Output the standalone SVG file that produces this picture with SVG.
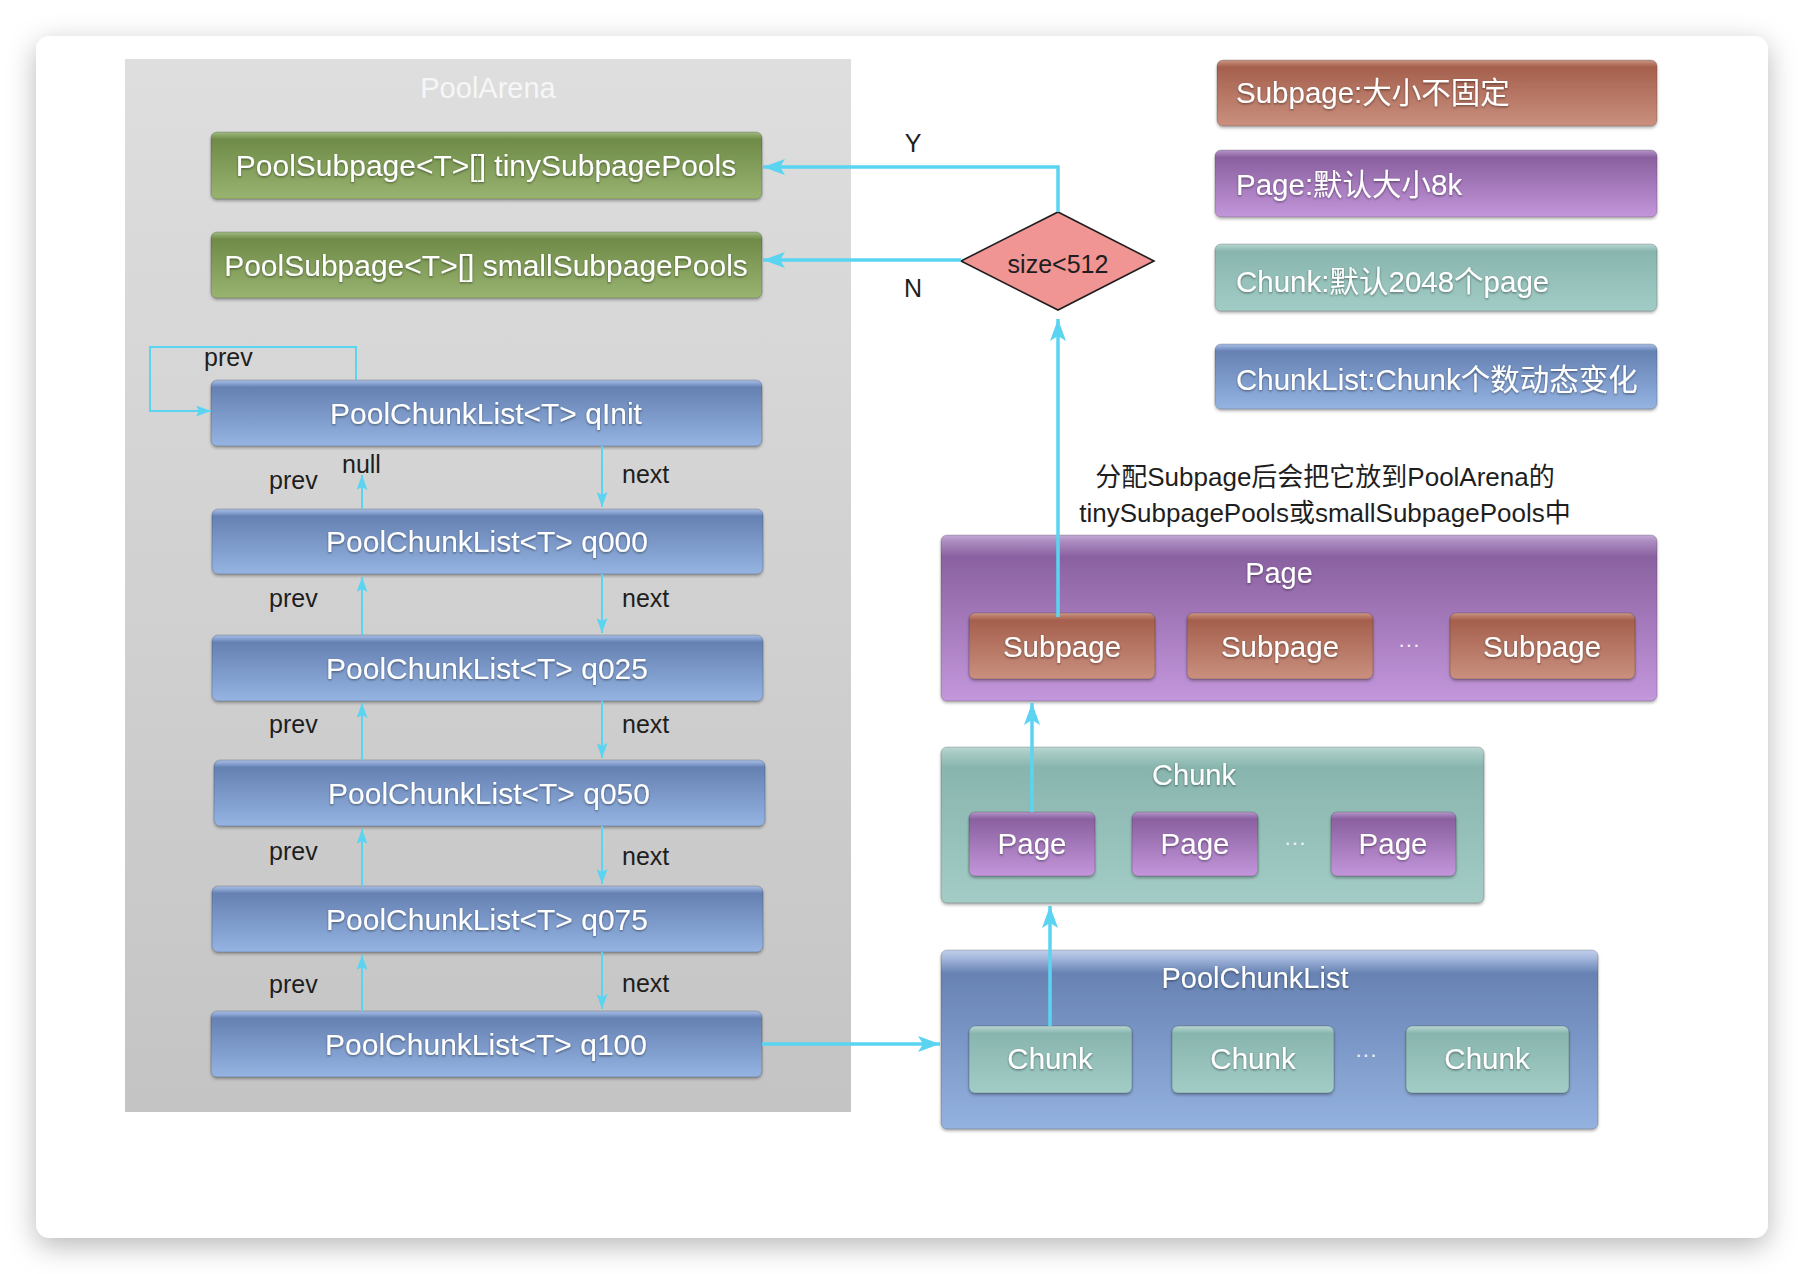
<svg xmlns="http://www.w3.org/2000/svg" width="1804" height="1274" viewBox="0 0 1804 1274">
<defs>
<style>
.lbl{font-family:"Liberation Sans","Noto Sans CJK SC",sans-serif;fill:#ffffff;text-anchor:middle;filter:url(#ts)}
.leg{font-family:"Liberation Sans","Noto Sans CJK SC",sans-serif;fill:#ffffff;font-size:29.5px;filter:url(#ts)}
.blk{font-family:"Liberation Sans","Noto Sans CJK SC",sans-serif;fill:#1e1e1e;font-size:25px}
.cap{font-family:"Liberation Sans","Noto Sans CJK SC",sans-serif;fill:#1e1e1e;font-size:26px;text-anchor:middle}
.dots{font-family:"Liberation Sans",sans-serif;fill:#f2eef5;font-size:22px;text-anchor:middle}
.box{filter:url(#bs);stroke:rgba(0,0,0,0.18);stroke-width:1}
.thick{fill:none;stroke:#5ad4f1;stroke-width:3.5;marker-end:url(#ab)}
.thin{fill:none;stroke:#5ad4f1;stroke-width:2;marker-end:url(#as)}
</style>
<linearGradient id="gArena" x1="0" y1="0" x2="0" y2="1"><stop offset="0" stop-color="#dedede"/><stop offset="1" stop-color="#c4c4c4"/></linearGradient>
<linearGradient id="gGreen" x1="0" y1="0" x2="0" y2="1"><stop offset="0" stop-color="#a3b987"/><stop offset="0.05" stop-color="#8aa666"/><stop offset="0.11" stop-color="#6f8b48"/><stop offset="1" stop-color="#99b470"/></linearGradient>
<linearGradient id="gBlue" x1="0" y1="0" x2="0" y2="1"><stop offset="0" stop-color="#a9bde0"/><stop offset="0.05" stop-color="#8ca6d4"/><stop offset="0.11" stop-color="#6581b2"/><stop offset="1" stop-color="#95b4e2"/></linearGradient>
<linearGradient id="gBlueC" x1="0" y1="0" x2="0" y2="1"><stop offset="0" stop-color="#c0cfea"/><stop offset="0.04" stop-color="#a8bbdf"/><stop offset="0.13" stop-color="#6782b3"/><stop offset="1" stop-color="#94b2e0"/></linearGradient>
<linearGradient id="gBrown" x1="0" y1="0" x2="0" y2="1"><stop offset="0" stop-color="#c99a8a"/><stop offset="0.05" stop-color="#b97b67"/><stop offset="0.11" stop-color="#a5604d"/><stop offset="1" stop-color="#ca907e"/></linearGradient>
<linearGradient id="gPurple" x1="0" y1="0" x2="0" y2="1"><stop offset="0" stop-color="#b79ac8"/><stop offset="0.05" stop-color="#a07db6"/><stop offset="0.11" stop-color="#8a609f"/><stop offset="1" stop-color="#c396db"/></linearGradient>
<linearGradient id="gPurpleC" x1="0" y1="0" x2="0" y2="1"><stop offset="0" stop-color="#c4a9d4"/><stop offset="0.04" stop-color="#ab8bc0"/><stop offset="0.13" stop-color="#8a61a0"/><stop offset="1" stop-color="#c497dc"/></linearGradient>
<linearGradient id="gTeal" x1="0" y1="0" x2="0" y2="1"><stop offset="0" stop-color="#b9d6d1"/><stop offset="0.05" stop-color="#a2c8c2"/><stop offset="0.11" stop-color="#88b5ae"/><stop offset="1" stop-color="#a2cdc6"/></linearGradient>
<linearGradient id="gTealC" x1="0" y1="0" x2="0" y2="1"><stop offset="0" stop-color="#bcd8d3"/><stop offset="0.04" stop-color="#a6cac4"/><stop offset="0.13" stop-color="#88b5ae"/><stop offset="1" stop-color="#a3ccc6"/></linearGradient>
<filter id="cs" x="-5%" y="-6%" width="110%" height="115%"><feDropShadow dx="0" dy="8" stdDeviation="14" flood-color="#000" flood-opacity="0.28"/></filter>
<filter id="bs" x="-5%" y="-10%" width="110%" height="130%"><feDropShadow dx="0" dy="2" stdDeviation="1.5" flood-color="#000" flood-opacity="0.3"/></filter>
<filter id="ts" x="-5%" y="-20%" width="110%" height="150%"><feDropShadow dx="0" dy="1.2" stdDeviation="0.8" flood-color="#000" flood-opacity="0.45"/></filter>
<marker id="ab" markerUnits="userSpaceOnUse" viewBox="0 -8 22 16" markerWidth="22" markerHeight="16" refX="22" refY="0" orient="auto"><path d="M0,-8 L22,0 L0,8 L5,0 z" fill="#5ad4f1"/></marker>
<marker id="as" markerUnits="userSpaceOnUse" viewBox="0 -5.5 15 11" markerWidth="15" markerHeight="11" refX="15" refY="0" orient="auto"><path d="M0,-5.5 L15,0 L0,5.5 L3,0 z" fill="#5ad4f1"/></marker>
</defs>
<rect x="0" y="0" width="1804" height="1274" fill="#ffffff"/>
<rect x="36" y="36" width="1732" height="1202" rx="14" fill="#ffffff" filter="url(#cs)"/>

<g id="poolArena">
<rect x="125" y="59" width="726" height="1053" fill="url(#gArena)"/>
<text x="488" y="98" font-family="Liberation Sans, sans-serif" font-size="29" fill="#f6f6f6" text-anchor="middle">PoolArena</text>
</g>

<g id="tinySubpagePools">
<rect class="box" x="211" y="132" width="551" height="67" rx="6" fill="url(#gGreen)"/>
<text class="lbl" x="486" y="176" font-size="30">PoolSubpage&lt;T&gt;[] tinySubpagePools</text>
</g>
<g id="smallSubpagePools">
<rect class="box" x="211" y="232" width="551" height="66" rx="6" fill="url(#gGreen)"/>
<text class="lbl" x="486" y="276" font-size="30">PoolSubpage&lt;T&gt;[] smallSubpagePools</text>
</g>

<g id="qInit">
<rect class="box" x="211" y="380" width="551" height="66" rx="6" fill="url(#gBlue)"/>
<text class="lbl" x="486" y="424" font-size="30">PoolChunkList&lt;T&gt; qInit</text>
</g>
<g id="q000">
<rect class="box" x="212" y="509" width="551" height="65" rx="6" fill="url(#gBlue)"/>
<text class="lbl" x="487" y="552" font-size="30">PoolChunkList&lt;T&gt; q000</text>
</g>
<g id="q025">
<rect class="box" x="212" y="635" width="551" height="66" rx="6" fill="url(#gBlue)"/>
<text class="lbl" x="487" y="679" font-size="30">PoolChunkList&lt;T&gt; q025</text>
</g>
<g id="q050">
<rect class="box" x="214" y="760" width="551" height="66" rx="6" fill="url(#gBlue)"/>
<text class="lbl" x="489" y="804" font-size="30">PoolChunkList&lt;T&gt; q050</text>
</g>
<g id="q075">
<rect class="box" x="212" y="886" width="551" height="66" rx="6" fill="url(#gBlue)"/>
<text class="lbl" x="487" y="930" font-size="30">PoolChunkList&lt;T&gt; q075</text>
</g>
<g id="q100">
<rect class="box" x="211" y="1011" width="551" height="66" rx="6" fill="url(#gBlue)"/>
<text class="lbl" x="486" y="1055" font-size="30">PoolChunkList&lt;T&gt; q100</text>
</g>

<g id="legendSubpage">
<rect class="box" x="1217" y="60" width="440" height="66" rx="6" fill="url(#gBrown)"/>
<text class="leg" x="1236" y="103">Subpage:大小不固定</text>
</g>
<g id="legendPage">
<rect class="box" x="1215" y="150" width="442" height="67" rx="6" fill="url(#gPurple)"/>
<text class="leg" x="1236" y="195">Page:默认大小8k</text>
</g>
<g id="legendChunk">
<rect class="box" x="1215" y="244" width="442" height="67" rx="6" fill="url(#gTeal)"/>
<text class="leg" x="1236" y="292">Chunk:默认2048个page</text>
</g>
<g id="legendChunkList">
<rect class="box" x="1215" y="344" width="442" height="65" rx="6" fill="url(#gBlue)"/>
<text class="leg" x="1236" y="390">ChunkList:Chunk个数动态变化</text>
</g>

<g id="decision">
<polygon points="1058,212 1154,261 1058,310 961,261" fill="#f09494" stroke="#1e1e1e" stroke-width="1.6"/>
<text class="blk" x="1058" y="273" text-anchor="middle">size&lt;512</text>
</g>

<g id="caption">
<text class="cap" x="1325" y="486">分配Subpage后会把它放到PoolArena的</text>
<text class="cap" x="1325" y="522">tinySubpagePools或smallSubpagePools中</text>
</g>

<g id="pageContainer">
<rect class="box" x="941" y="535" width="716" height="166" rx="6" fill="url(#gPurpleC)"/>
<text class="lbl" x="1279" y="583" font-size="29">Page</text>
<g id="subpage1"><rect class="box" x="969" y="613" width="186" height="66" rx="6" fill="url(#gBrown)"/><text class="lbl" x="1062" y="657" font-size="29.5">Subpage</text></g>
<g id="subpage2"><rect class="box" x="1187" y="613" width="186" height="66" rx="6" fill="url(#gBrown)"/><text class="lbl" x="1280" y="657" font-size="29.5">Subpage</text></g>
<text class="dots" x="1409" y="652">···</text>
<g id="subpage3"><rect class="box" x="1450" y="613" width="185" height="66" rx="6" fill="url(#gBrown)"/><text class="lbl" x="1542" y="657" font-size="29.5">Subpage</text></g>
</g>

<g id="chunkContainer">
<rect class="box" x="941" y="747" width="543" height="156" rx="6" fill="url(#gTealC)"/>
<text class="lbl" x="1194" y="785" font-size="29">Chunk</text>
<g id="page1"><rect class="box" x="969" y="812" width="126" height="64" rx="6" fill="url(#gPurple)"/><text class="lbl" x="1032" y="854" font-size="29.5">Page</text></g>
<g id="page2"><rect class="box" x="1132" y="812" width="126" height="64" rx="6" fill="url(#gPurple)"/><text class="lbl" x="1195" y="854" font-size="29.5">Page</text></g>
<text class="dots" x="1295" y="850">···</text>
<g id="page3"><rect class="box" x="1331" y="812" width="125" height="64" rx="6" fill="url(#gPurple)"/><text class="lbl" x="1393" y="854" font-size="29.5">Page</text></g>
</g>

<g id="poolChunkListContainer">
<rect class="box" x="941" y="950" width="657" height="179" rx="6" fill="url(#gBlueC)"/>
<text class="lbl" x="1255" y="988" font-size="29">PoolChunkList</text>
<g id="chunk1"><rect class="box" x="969" y="1026" width="163" height="67" rx="6" fill="url(#gTeal)"/><text class="lbl" x="1050" y="1069" font-size="29.5">Chunk</text></g>
<g id="chunk2"><rect class="box" x="1172" y="1026" width="162" height="67" rx="6" fill="url(#gTeal)"/><text class="lbl" x="1253" y="1069" font-size="29.5">Chunk</text></g>
<text class="dots" x="1366" y="1062">···</text>
<g id="chunk3"><rect class="box" x="1406" y="1026" width="163" height="67" rx="6" fill="url(#gTeal)"/><text class="lbl" x="1487" y="1069" font-size="29.5">Chunk</text></g>
</g>

<g id="connectors">
<path class="thick" d="M1058,212 V167 H763"/>
<path class="thick" d="M961,260 H763"/>
<path class="thick" d="M1058,617 V319"/>
<path class="thick" d="M762,1044 H940"/>
<path class="thick" d="M1050,1026 V906"/>
<path class="thick" d="M1032,812 V703"/>
<path class="thin" d="M356,380 V347 H150 V411 H211"/>
<path class="thin" d="M362,509 V475"/>
<path class="thin" d="M362,635 V577"/>
<path class="thin" d="M362,760 V703"/>
<path class="thin" d="M362,886 V829"/>
<path class="thin" d="M362,1011 V955"/>
<path class="thin" d="M602,446 V507"/>
<path class="thin" d="M602,574 V633"/>
<path class="thin" d="M602,701 V758"/>
<path class="thin" d="M602,826 V884"/>
<path class="thin" d="M602,952 V1009"/>
<text class="blk" x="913" y="152" text-anchor="middle">Y</text>
<text class="blk" x="913" y="297" text-anchor="middle">N</text>
<text class="blk" x="204" y="366">prev</text>
<text class="blk" x="342" y="473">null</text>
<text class="blk" x="269" y="489">prev</text>
<text class="blk" x="622" y="483">next</text>
<text class="blk" x="269" y="607">prev</text>
<text class="blk" x="622" y="607">next</text>
<text class="blk" x="269" y="733">prev</text>
<text class="blk" x="622" y="733">next</text>
<text class="blk" x="269" y="860">prev</text>
<text class="blk" x="622" y="865">next</text>
<text class="blk" x="269" y="993">prev</text>
<text class="blk" x="622" y="992">next</text>
</g>
</svg>
